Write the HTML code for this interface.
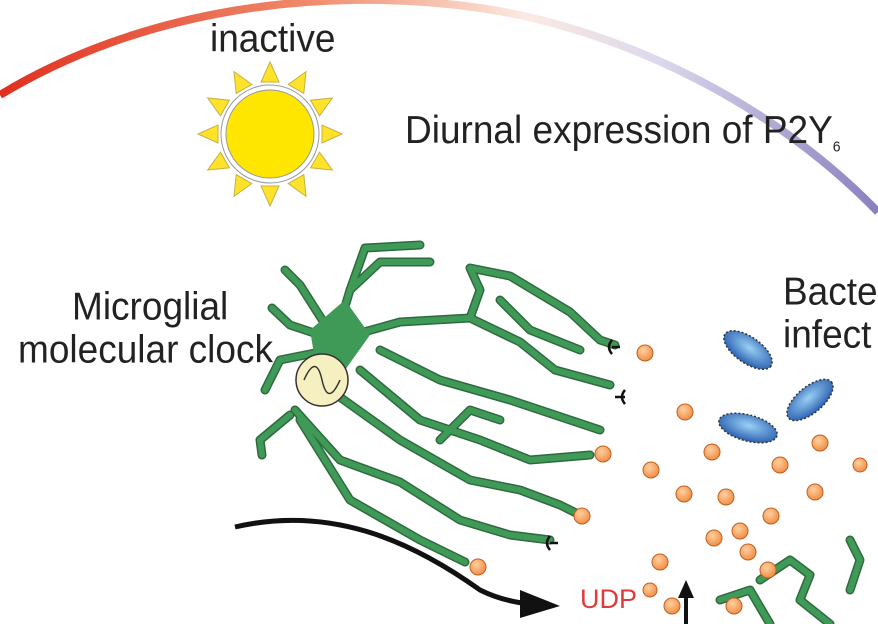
<!DOCTYPE html>
<html><head><style>
body{margin:0;width:878px;height:624px;overflow:hidden;background:#fff;font-family:"Liberation Sans",sans-serif}
.t{position:absolute;color:#222;white-space:nowrap;font-size:37px;line-height:38px;transform:scaleY(1.05);transform-origin:0 100%}
</style></head><body>
<svg width="878" height="624" style="position:absolute;left:0;top:0">
<defs>
<linearGradient id="arc" x1="0" y1="0" x2="878" y2="0" gradientUnits="userSpaceOnUse">
<stop offset="0" stop-color="#e03020"/><stop offset="0.35" stop-color="#f08a6a"/>
<stop offset="0.6" stop-color="#fbeae2"/><stop offset="0.75" stop-color="#dcd8ec"/>
<stop offset="1" stop-color="#8a80c0"/></linearGradient>
<radialGradient id="dot" cx="0.4" cy="0.35" r="0.7"><stop offset="0" stop-color="#ffd0a0"/><stop offset="1" stop-color="#f08a40"/></radialGradient>
<radialGradient id="bac" cx="0.5" cy="0.4" r="0.6"><stop offset="0" stop-color="#9ad0f5"/><stop offset="1" stop-color="#2a60b0"/></radialGradient>
</defs>
<path d="M0,95 C140,10 320,-15 480,8 C600,25 760,90 878,212" fill="none" stroke="url(#arc)" stroke-width="8"/>
<g transform="translate(270,134)" fill="#ffe22a" stroke="#c8b040" stroke-width="1">
<g id="ray"><polygon points="-9,-52 9,-52 0,-72"/></g>
<use href="#ray" transform="rotate(30)"/><use href="#ray" transform="rotate(60)"/><use href="#ray" transform="rotate(90)"/>
<use href="#ray" transform="rotate(120)"/><use href="#ray" transform="rotate(150)"/><use href="#ray" transform="rotate(180)"/>
<use href="#ray" transform="rotate(210)"/><use href="#ray" transform="rotate(240)"/><use href="#ray" transform="rotate(270)"/>
<use href="#ray" transform="rotate(300)"/><use href="#ray" transform="rotate(330)"/>
<circle r="49" fill="#fff" stroke="#999"/>
<circle r="44" fill="#ffe600" stroke="#999"/>
</g>
<g fill="none" stroke-linecap="round" stroke-linejoin="round">
<g stroke="#2e6a3e" stroke-width="9">
<path d="M335,340 L350,290 L365,248 L420,245"/>
<path d="M350,290 L380,262 L430,262"/>
<path d="M335,340 L290,325 L272,308"/>
<path d="M335,340 L300,285 L285,270"/>
<path d="M330,350 L280,360 L265,390"/>
<path d="M335,340 L400,322 L470,318 L520,342 L555,370 L610,385"/>
<path d="M470,318 L480,290 L470,268 L510,276 L570,312 L600,340 L615,345"/>
<path d="M500,300 L530,330 L580,350"/>
<path d="M380,350 L440,380 L510,400 L570,420 L600,430"/>
<path d="M360,370 L420,420 L480,440 L530,460 L590,455"/>
<path d="M330,390 L400,440 L470,480 L520,490 L560,505 L580,515"/>
<path d="M295,410 L340,460 L400,482 L460,520 L510,535 L550,540"/>
<path d="M300,420 L350,500 L420,540 L465,562"/>
<path d="M290,415 L260,440 L262,455"/>
<path d="M440,440 L470,410 L500,420"/>
<path d="M760,580 L790,560 L810,575 L800,600 L830,624"/>
<path d="M850,540 L860,560 L850,590"/>
<path d="M720,600 L750,590 L770,624"/>
</g>
<g stroke="#3f9a58" stroke-width="6">
<path d="M335,340 L350,290 L365,248 L420,245"/>
<path d="M350,290 L380,262 L430,262"/>
<path d="M335,340 L290,325 L272,308"/>
<path d="M335,340 L300,285 L285,270"/>
<path d="M330,350 L280,360 L265,390"/>
<path d="M335,340 L400,322 L470,318 L520,342 L555,370 L610,385"/>
<path d="M470,318 L480,290 L470,268 L510,276 L570,312 L600,340 L615,345"/>
<path d="M500,300 L530,330 L580,350"/>
<path d="M380,350 L440,380 L510,400 L570,420 L600,430"/>
<path d="M360,370 L420,420 L480,440 L530,460 L590,455"/>
<path d="M330,390 L400,440 L470,480 L520,490 L560,505 L580,515"/>
<path d="M295,410 L340,460 L400,482 L460,520 L510,535 L550,540"/>
<path d="M300,420 L350,500 L420,540 L465,562"/>
<path d="M290,415 L260,440 L262,455"/>
<path d="M440,440 L470,410 L500,420"/>
<path d="M760,580 L790,560 L810,575 L800,600 L830,624"/>
<path d="M850,540 L860,560 L850,590"/>
<path d="M720,600 L750,590 L770,624"/>
</g>
</g>
<polygon points="310,330 345,300 370,335 345,370 315,360" fill="#3f9a58"/>
<circle cx="322" cy="380" r="26" fill="#f6f0c0" stroke="#333" stroke-width="1.5"/>
<path d="M304,380 C312,362 318,362 322,380 C326,398 332,398 340,380" fill="none" stroke="#333" stroke-width="1.5"/>
<g fill="none" stroke="#111" stroke-width="2.5">
<path d="M612,340 q-6,7 0,14 M612,347 h8"/>
<path d="M625,390 q-6,7 0,14 M625,397 h-10"/>
<path d="M550,536 q-6,7 0,14 M550,543 h8"/>
</g>
<g fill="url(#dot)" stroke="#c06020" stroke-width="1">
<circle cx="645" cy="353" r="8"/><circle cx="603" cy="454" r="8"/><circle cx="582" cy="516" r="8"/><circle cx="478" cy="567" r="8"/>
<circle cx="685" cy="412" r="8"/><circle cx="651" cy="470" r="8"/><circle cx="712" cy="452" r="8"/><circle cx="684" cy="494" r="8"/>
<circle cx="726" cy="497" r="8"/><circle cx="771" cy="516" r="8"/><circle cx="740" cy="531" r="8"/><circle cx="820" cy="443" r="8"/>
<circle cx="815" cy="492" r="8"/><circle cx="660" cy="562" r="8"/><circle cx="714" cy="538" r="8"/><circle cx="748" cy="552" r="8"/>
<circle cx="768" cy="570" r="8"/><circle cx="734" cy="606" r="8"/><circle cx="672" cy="606" r="8"/><circle cx="780" cy="465" r="8"/>
<circle cx="650" cy="590" r="7"/><circle cx="860" cy="465" r="7"/>
</g>
<g stroke="#333" stroke-width="1.5">
<ellipse cx="748" cy="350" rx="28" ry="13" transform="rotate(35 748 350)" fill="url(#bac)" stroke-dasharray="2 2"/>
<ellipse cx="748" cy="428" rx="30" ry="13" transform="rotate(15 748 428)" fill="url(#bac)" stroke-dasharray="2 2"/>
<ellipse cx="810" cy="400" rx="28" ry="13" transform="rotate(-40 810 400)" fill="url(#bac)" stroke-dasharray="2 2"/>
</g>
<path d="M235,527 C330,505 410,540 480,590 C500,600 520,603 530,604" fill="none" stroke="#111" stroke-width="5"/>
<polygon points="520,590 560,606 520,618" fill="#111"/>
<line x1="686" y1="624" x2="686" y2="595" stroke="#111" stroke-width="4"/>
<polygon points="678,598 686,580 694,598" fill="#111"/>
</svg>
<div class="t" style="left:210px;top:21px">inactive</div>
<div class="t" style="left:405px;top:113px">Diurnal expression of P2Y<sub style="font-size:14px">6</sub></div>
<div class="t" style="left:72px;top:289px">Microglial</div>
<div class="t" style="left:18px;top:332px">molecular clock</div>
<div class="t" style="left:783px;top:274px">Bacte</div>
<div class="t" style="left:783px;top:317px">infect</div>
<div class="t" style="left:580px;top:584px;font-size:27px;line-height:30px;color:#e03a3a;transform:none">UDP</div>
</body></html>
